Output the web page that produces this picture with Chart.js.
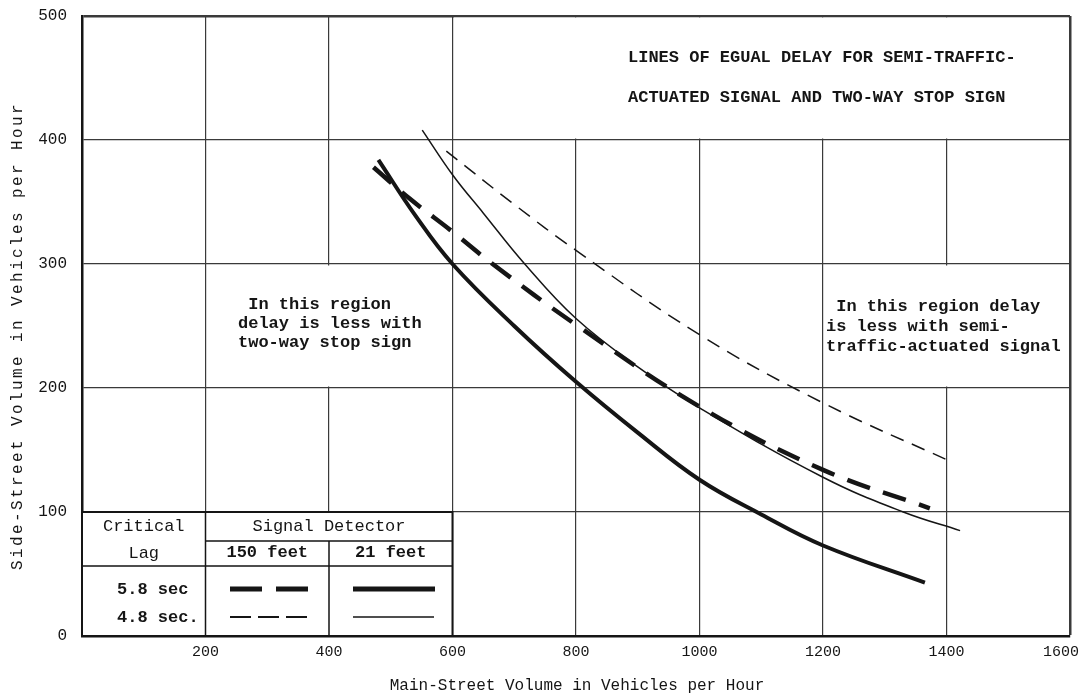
<!DOCTYPE html>
<html>
<head>
<meta charset="utf-8">
<script src="https://cdn.jsdelivr.net/npm/chart.js@4/dist/chart.umd.min.js"></script>
<style>
  html, body { margin: 0; padding: 0; background: #fff; }
</style>
</head>
<body>
<canvas id="delay" width="1082" height="695"></canvas>
<script>
// values (main-street veh/h -> side-street veh/h)
const thickSolidX = [480, 540, 600, 700, 800, 900, 1000, 1100, 1200, 1365];
const thickSolidY = [384, 339, 300, 250, 205, 164, 126, 98, 73, 43];

const thickDashX = [472, 530, 600, 665, 800, 1000, 1200, 1373];
const thickDashY = [378, 353, 326, 300, 251, 185, 134, 103];

const thinSolidX = [551, 600, 650, 717, 800, 900, 1000, 1200, 1330, 1422];
const thinSolidY = [408, 372, 341, 300, 256, 217, 184, 128, 100, 85];

const thinDashX = [590, 700, 800, 1000, 1200, 1410];
const thinDashY = [391, 348, 311, 243, 188, 140];

const titleLines = ["LINES OF EGUAL DELAY FOR SEMI-TRAFFIC-", "ACTUATED SIGNAL AND TWO-WAY STOP SIGN"];
const leftNote = [" In this region", "delay is less with", "two-way stop sign"];
const rightNote = [" In this region delay", "is less with semi-", "traffic-actuated signal"];

const INK = "#151515";
const MONO = "'Liberation Mono', 'DejaVu Sans Mono', monospace";

function pts(xs, ys) {
  return xs.map((v, i) => ({x: v, y: ys[i]}));
}

function curve(label, xs, ys, width, dash) {
  return {
    label: label,
    data: pts(xs, ys),
    borderColor: INK,
    borderWidth: width,
    borderDash: dash,
    pointRadius: 0,
    fill: false,
    tension: 0.4,
    borderCapStyle: "butt"
  };
}

// white patches over the grid (in data units: x0, x1, y0, y1)
const patches = [[600, 1600, 400, 500], [200, 600, 200, 300], [1200, 1600, 200, 300]];

const overlay = {
  id: "overlay",
  beforeDatasetsDraw(chart) {
    const {ctx, scales: {x, y}} = chart;
    ctx.save();
    ctx.fillStyle = "#fff";
    patches.forEach(p => {
      const l = x.getPixelForValue(p[0]), r = x.getPixelForValue(p[1]);
      const t = y.getPixelForValue(p[3]), b = y.getPixelForValue(p[2]);
      ctx.fillRect(l + 1.5, t + 1.5, r - l - 3, b - t - 3);
    });
    ctx.restore();
  },
  afterDatasetsDraw(chart) {
    const {ctx, scales: {x, y}} = chart;
    ctx.save();
    ctx.fillStyle = INK;
    ctx.textBaseline = "middle";

    // title + region notes
    ctx.font = "bold 17px " + MONO;
    ctx.textAlign = "left";
    ctx.fillText(titleLines[0], 628, 58);
    ctx.fillText(titleLines[1], 628, 98);
    leftNote.forEach((s, i) => ctx.fillText(s, 238, 305 + i * 19));
    rightNote.forEach((s, i) => ctx.fillText(s, 826, 307 + i * 20));

    // legend table
    const c0 = x.getPixelForValue(0), c1 = x.getPixelForValue(200);
    const c2 = x.getPixelForValue(400), c3 = x.getPixelForValue(600);
    const r0 = y.getPixelForValue(100), r3 = y.getPixelForValue(0);
    const r1 = r0 + 29, r2 = r0 + 54;
    ctx.fillStyle = "#fff";
    ctx.fillRect(c0, r0, c3 - c0, r3 - r0);
    ctx.strokeStyle = INK;
    ctx.lineWidth = 2;
    ctx.strokeRect(c0, r0, c3 - c0, r3 - r0);
    ctx.lineWidth = 1.5;
    ctx.beginPath();
    ctx.moveTo(c1, r0); ctx.lineTo(c1, r3);
    ctx.moveTo(c2, r1); ctx.lineTo(c2, r3);
    ctx.moveTo(c1, r1); ctx.lineTo(c3, r1);
    ctx.moveTo(c0, r2); ctx.lineTo(c3, r2);
    ctx.stroke();

    ctx.fillStyle = INK;
    ctx.font = "17px " + MONO;
    ctx.textAlign = "center";
    ctx.fillText("Critical", (c0 + c1) / 2, r0 + 14);
    ctx.fillText("Lag", (c0 + c1) / 2, r1 + 12);
    ctx.fillText("Signal Detector", (c1 + c3) / 2, r0 + 14);
    ctx.font = "bold 17px " + MONO;
    ctx.fillText("150 feet", (c1 + c2) / 2, r1 + 12);
    ctx.fillText("21 feet", (c2 + c3) / 2, r1 + 12);
    ctx.textAlign = "left";
    ctx.fillText("5.8 sec", 117, 590);
    ctx.fillText("4.8 sec.", 117, 618);

    const sample = (x0, x1, yy, w, dash) => {
      ctx.lineWidth = w;
      ctx.setLineDash(dash);
      ctx.beginPath();
      ctx.moveTo(x0, yy); ctx.lineTo(x1, yy);
      ctx.stroke();
    };
    ctx.lineCap = "butt";
    sample(230, 308, 589, 5, [32, 14]);
    sample(353, 435, 589, 5, []);
    sample(230, 308, 617, 2, [21, 7]);
    sample(353, 434, 617, 1.5, []);
    ctx.restore();
  },
  afterDraw(chart) {
    const {ctx, chartArea: a} = chart;
    ctx.save();
    ctx.fillStyle = INK;
    ctx.textAlign = "center";
    ctx.textBaseline = "middle";
    ctx.font = "16px " + MONO;
    ctx.fillText("Main-Street Volume in Vehicles per Hour", (a.left + a.right) / 2 + 1, 686);
    ctx.translate(18, 336);
    ctx.rotate(-Math.PI / 2);
    if ("letterSpacing" in ctx) ctx.letterSpacing = "2.4px";
    ctx.fillText("Side-Street Volume in Vehicles per Hour", 0, 0);
    ctx.restore();
  }
};

const data = {
  datasets: [
    curve("5.8 sec, 21 feet", thickSolidX, thickSolidY, 4, []),
    curve("5.8 sec, 150 feet", thickDashX, thickDashY, 4.5, [24, 14]),
    curve("4.8 sec, 21 feet", thinSolidX, thinSolidY, 1.5, []),
    curve("4.8 sec, 150 feet", thinDashX, thinDashY, 1.5, [14, 9])
  ]
};

const config = {
  type: "line",
  data: data,
  plugins: [overlay],
  options: {
    responsive: false,
    animation: false,
    layout: {padding: {top: 16, right: 12, left: 0, bottom: 0}},
    plugins: {legend: {display: false}, tooltip: {enabled: false}},
    scales: {
      x: {
        type: "linear",
        min: 0, max: 1600,
        ticks: {
          stepSize: 200, padding: 7, color: INK,
          font: {family: MONO, size: 15},
          // last label sits on the right edge, pad it so it stays on the canvas
          callback: v => (v === 0 ? "" : v === 1600 ? v + "\u00a0\u00a0" : v)
        },
        grid: {
          color: "#3a3a3a", drawTicks: false,
          lineWidth: c => (c.tick && c.tick.value === 1600 ? 2.5 : 1.2)
        },
        border: {color: INK, width: 2.5},
        afterFit: s => { s.height = 59; s.paddingLeft = 0; s.paddingRight = 0; }
      },
      y: {
        type: "linear",
        min: 0, max: 500,
        ticks: {
          stepSize: 100, padding: 15, color: INK,
          font: {family: MONO, size: 16}
        },
        grid: {
          color: "#3a3a3a", drawTicks: false,
          lineWidth: c => (c.tick && c.tick.value === 500 ? 2.5 : 1.2)
        },
        border: {color: INK, width: 2.5},
        afterFit: s => { s.width = 82; s.paddingTop = 0; s.paddingBottom = 0; }
      }
    }
  }
};

const delayChart = new Chart(document.getElementById("delay"), config);
</script>
</body>
</html>
